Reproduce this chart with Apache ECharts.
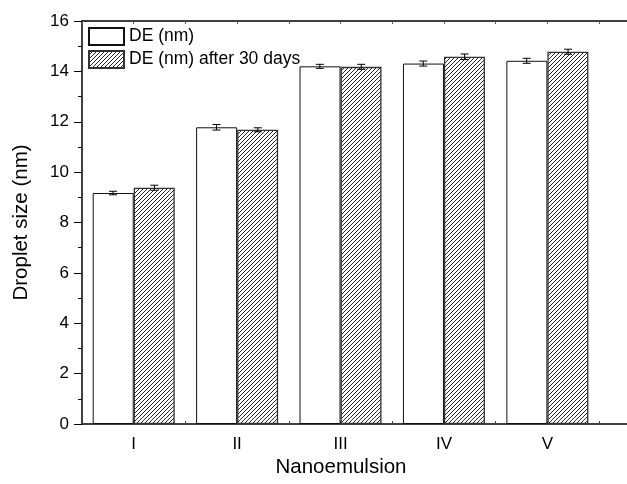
<!DOCTYPE html>
<html>
<head>
<meta charset="utf-8">
<script src="https://cdn.jsdelivr.net/npm/echarts@6/dist/echarts.min.js"></script>
<style>html,body{margin:0;padding:0;background:#fff;overflow:hidden;}#c{width:627px;height:484px;}</style>
</head>
<body>
<div id="c"></div>
<script>
const categories = ['I', 'II', 'III', 'IV', 'V'];
const seriesNames = ['DE (nm)', 'DE (nm) after 30 days'];
const deValues = [9.17, 11.78, 14.2, 14.31, 14.42];
const deErrors = [0.07, 0.11, 0.08, 0.1, 0.1];
const after30Values = [9.38, 11.68, 14.18, 14.58, 14.78];
const after30Errors = [0.1, 0.08, 0.1, 0.11, 0.1];
const yTicks = { min: 0, max: 16, interval: 2 };
const xRange = { min: 0.5, max: 5.77, interval: 0.5 };
const xTitle = 'Nanoemulsion';
const yTitle = 'Droplet size (nm)';

const pat = document.createElement('canvas');
pat.width = 4; pat.height = 4;
const g = pat.getContext('2d');
g.fillStyle = '#fff'; g.fillRect(0, 0, 4, 4);
g.strokeStyle = '#2a2a2a'; g.lineWidth = 1;
g.beginPath();
g.moveTo(-1, 5); g.lineTo(5, -1);
g.moveTo(-1, 1); g.lineTo(1, -1);
g.moveTo(3, 5); g.lineTo(5, 3);
g.stroke();

function pos(i) { return i + 1; }
function barData(vals) { return vals.map((v, i) => [pos(i), v]); }
function errData(vals, errs) { return vals.map((v, i) => [pos(i), v, errs[i]]); }
function errSeries(vals, errs, side) {
  return {
    type: 'custom', xAxisIndex: 0, yAxisIndex: 0, silent: true, z: 5,
    data: errData(vals, errs),
    renderItem: function (params, api) {
      const band = api.size([1, 0])[0];
      const off = side * band * 0.2;
      const c = api.value(0), v = api.value(1), e = api.value(2);
      const top = api.coord([c, v + e]);
      const bot = api.coord([c, v - e]);
      const x = top[0] + off;
      const hw = 4;
      const st = { stroke: '#000', lineWidth: 1 };
      return { type: 'group', children: [
        { type: 'line', shape: { x1: x, y1: top[1], x2: x, y2: bot[1] }, style: st },
        { type: 'line', shape: { x1: x - hw, y1: top[1], x2: x + hw, y2: top[1] }, style: st },
        { type: 'line', shape: { x1: x - hw, y1: bot[1], x2: x + hw, y2: bot[1] }, style: st }
      ]};
    }
  };
}

const chart = echarts.init(document.getElementById('c'), null, { renderer: 'canvas' });
const font = 'Liberation Sans, Arial, sans-serif';
chart.setOption({
  animation: false,
  backgroundColor: '#fff',
  textStyle: { fontFamily: font },
  grid: { left: 82, top: 21, bottom: 60, right: 0, containLabel: false },
  legend: {
    left: 88, top: 27, orient: 'vertical', padding: 0, itemGap: 4,
    itemWidth: 35, itemHeight: 17, icon: 'rect',
    data: seriesNames,
    textStyle: { fontSize: 17.5, color: '#000', fontFamily: font, lineHeight: 17 },
    selectedMode: false
  },
  graphic: [{
    type: 'text', x: 341, y: 467, silent: true,
    style: { text: xTitle, fill: '#000', font: '20.5px ' + font, textAlign: 'center', textVerticalAlign: 'middle' }
  }],
  xAxis: [{
    type: 'value', position: 'bottom', min: xRange.min, max: xRange.max, interval: xRange.interval,
    axisLine: { show: true, lineStyle: { color: '#000', width: 1.5 } },
    axisTick: { show: true, inside: true, length: 3, lineStyle: { color: '#444' } },
    axisLabel: {
      fontSize: 17, color: '#000', margin: 12, fontFamily: font, showMinLabel: true, showMaxLabel: false,
      formatter: function (v) { const k = Math.round(v); return Math.abs(v - k) < 1e-6 && categories[k - 1] ? categories[k - 1] : ''; }
    },
    splitLine: { show: false }
  }, {
    type: 'value', position: 'top', min: xRange.min, max: xRange.max, interval: xRange.interval,
    axisLine: { show: true, lineStyle: { color: '#000', width: 1.5 } },
    axisTick: { show: true, inside: true, length: 3, lineStyle: { color: '#555' } },
    axisLabel: { show: false }, splitLine: { show: false }
  }],
  yAxis: [{
    type: 'value', min: yTicks.min, max: yTicks.max, interval: yTicks.interval,
    name: yTitle, nameLocation: 'middle', nameGap: 50,
    nameTextStyle: { fontSize: 20.5, color: '#000', fontFamily: font },
    axisLine: { show: true, lineStyle: { color: '#000', width: 1.5 } },
    axisTick: { show: true, inside: false, length: 8, lineStyle: { color: '#000', width: 1 } },
    minorTick: { show: true, splitNumber: 2, length: 4, lineStyle: { color: '#000', width: 1 } },
    axisLabel: { fontSize: 17, color: '#000', margin: 13, fontFamily: font },
    splitLine: { show: false }, minorSplitLine: { show: false }
  }],
  series: [{
    name: seriesNames[0], type: 'bar', data: barData(deValues),
    barGap: '0%', barWidth: 41,
    itemStyle: { color: '#fff', borderColor: '#111', borderWidth: 1 }
  }, {
    name: seriesNames[1], type: 'bar', data: barData(after30Values),
    barGap: '0%', barWidth: 41,
    itemStyle: { color: { image: pat, repeat: 'repeat' }, borderColor: '#333', borderWidth: 1.3 }
  },
  errSeries(deValues, deErrors, -1),
  errSeries(after30Values, after30Errors, 1)]
});
</script>
</body>
</html>
